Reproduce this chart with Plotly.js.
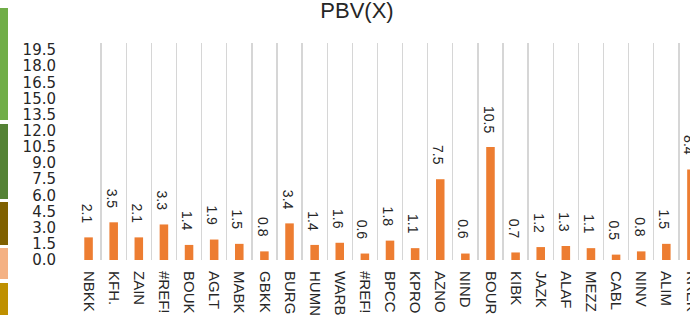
<!DOCTYPE html>
<html>
<head>
<meta charset="utf-8">
<script src="https://cdn.plot.ly/plotly-3.0.1.min.js"></script>
<style>
  html, body { margin: 0; padding: 0; width: 690px; height: 315px; overflow: hidden; background: #fff; }
  #wrap { position: relative; width: 690px; height: 315px; overflow: hidden; }
  #chart { position: absolute; left: 0; top: 0; width: 705px; height: 315px; }
  .band { position: absolute; left: 0; width: 8px; }
</style>
</head>
<body>
<div id="wrap">
  <div id="chart"></div>
  <div class="band" style="top:8px;height:112px;background:#70AD47"></div>
  <div class="band" style="top:124px;height:75px;background:#548235"></div>
  <div class="band" style="top:202px;height:43px;background:#7F6000"></div>
  <div class="band" style="top:248px;height:31px;background:#F4B183"></div>
  <div class="band" style="top:283px;height:32px;background:#BF9000"></div>
</div>
<script>
const tickers = ["NBKK","KFH.","ZAIN","#REF!","BOUK","AGLT","MABK","GBKK","BURG","HUMN","WARB","#REF!","BPCC","KPRO","AZNO","NIND","BOUR","KIBK","JAZK","ALAF","MEZZ","CABL","NINV","ALIM","KREK"];
const pbv = [2.1,3.5,2.1,3.3,1.4,1.9,1.5,0.8,3.4,1.4,1.6,0.6,1.8,1.1,7.5,0.6,10.5,0.7,1.2,1.3,1.1,0.5,0.8,1.5,8.4];
const yTicks = [0,1.5,3,4.5,6,7.5,9,10.5,12,13.5,15,16.5,18,19.5];

const idx = tickers.map((_, i) => i);
const bounds = tickers.concat([""]).map((_, i) => i - 0.5);
const font = "Liberation Sans, Arial, sans-serif";
const wideFont = "DejaVu Sans, Verdana, sans-serif";
const txtColor = "#262626";

const trace = {
  type: "bar",
  x: idx,
  y: pbv,
  marker: { color: "#ED7D31" },
  hoverinfo: "skip"
};

const annotations = pbv.map((v, i) => ({
  x: i, y: v, xref: "x", yref: "y",
  text: v.toFixed(1),
  textangle: 90,
  showarrow: false,
  yanchor: "bottom",
  xanchor: "center",
  yshift: 12,
  xshift: -2,
  font: { family: font, size: 14, color: txtColor }
}));

const layout = {
  width: 705, height: 315,
  margin: { l: 76, r: 1, t: 43, b: 55 },
  paper_bgcolor: "#fff", plot_bgcolor: "#fff",
  showlegend: false,
  bargap: 0.66,
  title: {
    text: "PBV(X)",
    font: { family: font, size: 22, color: txtColor },
    x: 357 / 705, xanchor: "center", xref: "container",
    y: 1 - 10.5 / 315, yanchor: "middle", yref: "container"
  },
  xaxis: {
    range: [-0.5, tickers.length - 0.5],
    tickmode: "array",
    tickvals: idx,
    ticktext: tickers,
    tickangle: 90,
    ticks: "outside", ticklen: 7, tickcolor: "rgba(0,0,0,0)",
    tickfont: { family: font, size: 15, color: txtColor },
    showgrid: false, zeroline: false, showline: false,
    minor: { tickmode: "array", tickvals: bounds, showgrid: true, gridcolor: "#D6D6D6", gridwidth: 1.4, ticks: "" }
  },
  yaxis: {
    range: [0, 20.15],
    tickmode: "array",
    tickvals: yTicks,
    ticktext: yTicks.map(v => v.toFixed(1)),
    ticks: "outside", ticklen: 16, tickcolor: "rgba(0,0,0,0)",
    tickfont: { family: wideFont, size: 15, color: txtColor },
    showgrid: false, zeroline: false, showline: false
  },
  annotations: annotations
};

Plotly.newPlot("chart", [trace], layout, { staticPlot: true, displayModeBar: false });
</script>
</body>
</html>
